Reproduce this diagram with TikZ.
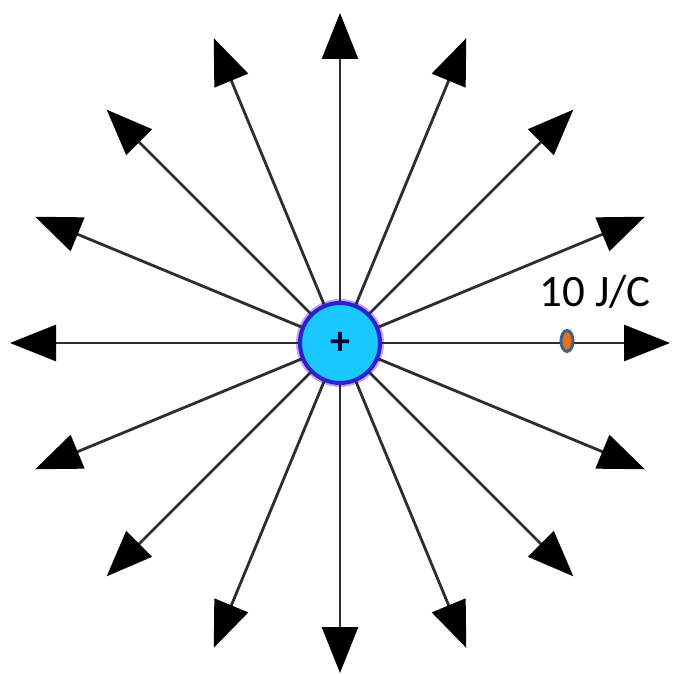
\documentclass[tikz,border=0pt]{standalone}
\usepackage{fontspec}
\setmainfont{Carlito}
\usetikzlibrary{arrows.meta,shapes.geometric,positioning,calc}
\definecolor{chargecyan}{RGB}{25,200,255}
\definecolor{chargeblue}{RGB}{40,35,205}
\definecolor{halo}{RGB}{205,160,245}
\definecolor{testorange}{RGB}{232,112,20}
\definecolor{testblue}{RGB}{62,96,140}
\definecolor{fieldline}{RGB}{45,45,45}

\tikzset{
    fieldray/.style={draw=fieldline, line width=2.8pt,
        -{Triangle[length=46pt, width=36pt, black]}},
    chargenode/.style={circle, fill=chargecyan, draw=chargeblue, line width=4pt,
        minimum size=80pt, inner sep=0pt,
        font=\fontsize{40}{40}\selectfont\bfseries, text=black!80!blue},
    testcharge/.style={ellipse, fill=testorange, draw=testblue, line width=3pt,
        minimum width=12pt, minimum height=21pt, inner sep=0pt},
}

\begin{document}
\begin{tikzpicture}[x=1pt, y=-1pt]
    \useasboundingbox[fill=white] (0,0) rectangle (674,674);

    % point charge and its field lines
    \coordinate (centre) at (340,343);
    \foreach \a [count=\i] in {0,22.5,...,337.5} {
        \coordinate (tip\i) at ($(centre)+(\a:330)$);
    }
    \node[circle, minimum size=88pt, fill=halo] (haloring) at (centre) {};
    \foreach \i in {1,...,16} {
        \draw[fieldray] (centre) -- (tip\i);
    }
    \node[chargenode] (charge) at (centre) {+};

    % test charge on the right field line
    \node[testcharge] (probe) at (567,341) {};
    \node[font=\fontsize{45}{45}\selectfont] (value) at (595,292) {10 J/C};
\end{tikzpicture}
\end{document}
